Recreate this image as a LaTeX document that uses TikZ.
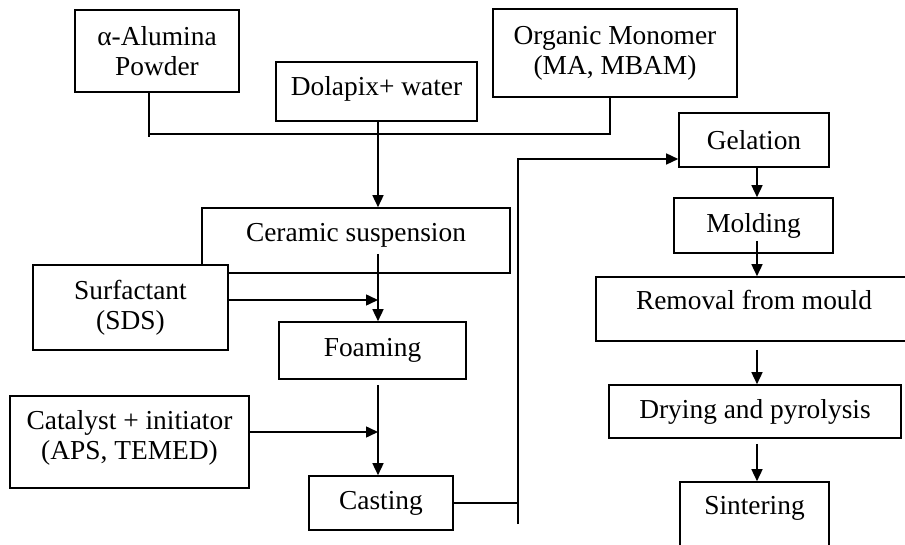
\documentclass[tikz,border=0pt]{standalone}
\usepackage{fontspec}
\setmainfont{Liberation Serif}
\usetikzlibrary{arrows.meta,positioning,calc}

\begin{document}
\begin{tikzpicture}[
  x=0.5pt,y=-0.5pt,
  flowbox/.style={draw,fill=white,line width=0.8pt,align=center,inner sep=0pt,
    font=\fontsize{13.7}{15}\selectfont},
  link/.style={-{Triangle[length=6pt,width=5.5pt]},line width=0.75pt},
  wire/.style={line width=0.75pt}
]
\useasboundingbox (0,0) rectangle (905,545);
\clip (0,0) rectangle (905,545);

\coordinate (axis) at (378,0);
\coordinate (rcol) at (757,0);
\coordinate (jl) at (149,134);
\coordinate (jr) at (610,134);
\coordinate (sj) at (378,300);
\coordinate (cj) at (378,432);
\coordinate (bend) at (518,159);
\coordinate (foot) at (518,524);

\node[flowbox,minimum width=82pt,minimum height=41pt] (alumina) at (157,51) {α-Alumina\\Powder};
\node[flowbox,minimum width=100.5pt,minimum height=29.5pt,text depth=5.5pt] (dolapix) at (376.5,91.5) {Dolapix+ water};
\node[flowbox,minimum width=122pt,minimum height=44pt] (monomer) at (615,53) {Organic Monomer\\(MA, MBAM)};
\node[flowbox,minimum width=154pt,minimum height=32.5pt,text depth=8pt] (ceramic) at (356,240.5) {Ceramic suspension};
\node[flowbox,minimum width=97.5pt,minimum height=42.5pt] (surfactant) at (130.5,307.5) {Surfactant\\(SDS)};
\node[flowbox,minimum width=93.5pt,minimum height=28.5pt] (foaming) at (372.5,350.5) {Foaming};
\node[flowbox,minimum width=119.5pt,minimum height=46pt,text depth=7.5pt] (catalyst) at (129.5,442) {Catalyst + initiator\\(APS, TEMED)};
\node[flowbox,minimum width=72pt,minimum height=27pt] (casting) at (381,503) {Casting};
\node[flowbox,minimum width=75pt,minimum height=27pt] (gelation) at (754,140) {Gelation};
\node[flowbox,minimum width=79.5pt,minimum height=27.5pt] (molding) at (753.5,225.5) {Molding};
\node[flowbox,minimum width=158pt,minimum height=32pt,text depth=9.4pt] (removal) at (754,309) {Removal from mould};
\node[flowbox,minimum width=146pt,minimum height=26.5pt] (drying) at (755,411.5) {Drying and pyrolysis};
\node[flowbox,minimum width=74.5pt,minimum height=39pt,text depth=15.4pt] (sintering) at (754.5,521) {Sintering};

\draw[wire] (alumina.south -| jl) -- ($(jl)+(0,3)$);
\draw[wire] (jl) -- (jr) -- (monomer.south -| jr);
\draw[link] (dolapix.south -| axis) -- (ceramic.north -| axis);
\draw[link] ($(ceramic.south -| axis)+(0,-20)$) -- (foaming.north -| axis);
\draw[link] (surfactant.east |- sj) -- (sj);
\draw[link] ($(foaming.south -| axis)+(0,5)$) -- (casting.north -| axis);
\draw[link] (catalyst.east |- cj) -- (cj);
\draw[wire] (casting.east) -- (casting.east -| bend);
\draw[link] (foot) -- (bend) -- (gelation.west |- bend);
\draw[link] (gelation.south -| rcol) -- (molding.north -| rcol);
\draw[link] ($(molding.south -| rcol)+(0,-13)$) -- (removal.north -| rcol);
\draw[link] ($(removal.south -| rcol)+(0,8)$) -- (drying.north -| rcol);
\draw[link] ($(drying.south -| rcol)+(0,5)$) -- (sintering.north -| rcol);
\end{tikzpicture}
\end{document}
